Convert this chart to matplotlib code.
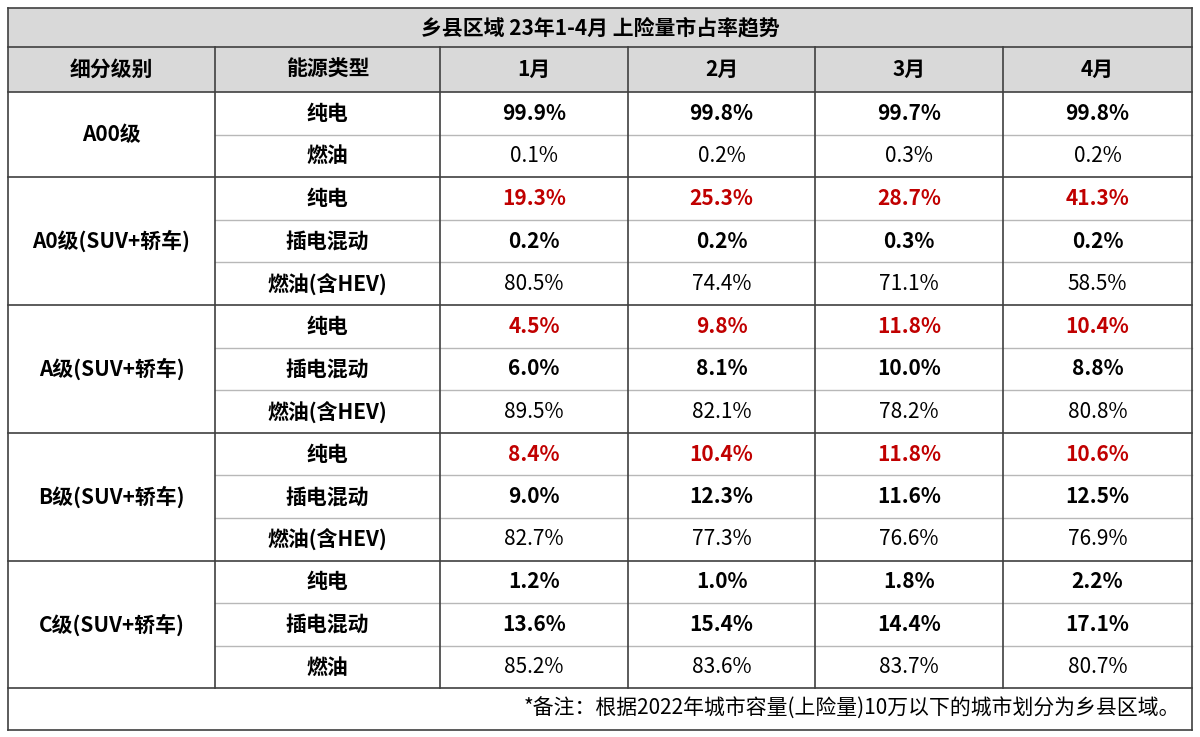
import matplotlib
matplotlib.use("Agg")
import matplotlib.pyplot as plt
from matplotlib.patches import Rectangle

plt.rcParams['font.family'] = 'Noto Sans CJK SC'

title = "乡县区域 23年1-4月 上险量市占率趋势"
headers = ["细分级别", "能源类型", "1月", "2月", "3月", "4月"]
groups = ["A00级", "A0级(SUV+轿车)", "A级(SUV+轿车)", "B级(SUV+轿车)", "C级(SUV+轿车)"]
types = [["纯电", "燃油"],
         ["纯电", "插电混动", "燃油(含HEV)"],
         ["纯电", "插电混动", "燃油(含HEV)"],
         ["纯电", "插电混动", "燃油(含HEV)"],
         ["纯电", "插电混动", "燃油"]]
values = [[[99.9, 99.8, 99.7, 99.8], [0.1, 0.2, 0.3, 0.2]],
          [[19.3, 25.3, 28.7, 41.3], [0.2, 0.2, 0.3, 0.2], [80.5, 74.4, 71.1, 58.5]],
          [[4.5, 9.8, 11.8, 10.4], [6.0, 8.1, 10.0, 8.8], [89.5, 82.1, 78.2, 80.8]],
          [[8.4, 10.4, 11.8, 10.6], [9.0, 12.3, 11.6, 12.5], [82.7, 77.3, 76.6, 76.9]],
          [[1.2, 1.0, 1.8, 2.2], [13.6, 15.4, 14.4, 17.1], [85.2, 83.6, 83.7, 80.7]]]
red_groups = [1, 2, 3]
note = "*备注：根据2022年城市容量(上险量)10万以下的城市划分为乡县区域。"

fig = plt.figure(figsize=(12, 7.37), dpi=100)
ax = fig.add_axes([0, 0, 1, 1])
ax.set_xlim(0, 1200); ax.set_ylim(737, 0); ax.axis('off')

cols = [8, 215, 440, 628, 815, 1003, 1192]
top, t1, t2 = 8, 47, 92
rh = 42.6
bottom_tbl = t2 + rh * 14
bot = 730
dark = '#404040'; light = '#b8b8b8'; gray = '#d9d9d9'
fs = 15

ax.add_patch(Rectangle((8, top), 1184, t2 - top, facecolor=gray, edgecolor='none'))
ax.text(600, (top + t1) / 2, title, ha='center', va='center', fontsize=fs, weight='bold')
for i, h in enumerate(headers):
    ax.text((cols[i] + cols[i + 1]) / 2, (t1 + t2) / 2, h, ha='center', va='center', fontsize=fs, weight='bold')

y = t2
for g, name in enumerate(groups):
    n = len(types[g])
    ax.text((cols[0] + cols[1]) / 2, y + rh * n / 2, name, ha='center', va='center', fontsize=fs, weight='bold')
    for r in range(n):
        yc = y + rh * r + rh / 2
        ax.text((cols[1] + cols[2]) / 2, yc, types[g][r], ha='center', va='center', fontsize=fs, weight='bold')
        fuel = types[g][r].startswith("燃油")
        for c in range(4):
            color = '#c00000' if (r == 0 and g in red_groups) else 'black'
            ax.text((cols[c + 2] + cols[c + 3]) / 2, yc, f"{values[g][r][c]:.1f}%", ha='center', va='center',
                    fontsize=fs, weight='normal' if fuel else 'bold', color=color)
        if r > 0:
            ax.plot([cols[1], cols[-1]], [y + rh * r] * 2, color=light, lw=1)
    y += rh * n
    ax.plot([cols[0], cols[-1]], [y, y], color=dark, lw=1.2)

ax.text(1180, (bottom_tbl + bot) / 2, note, ha='right', va='center', fontsize=fs)

for yy in [top, t1, t2, bot]:
    ax.plot([8, 1192], [yy, yy], color=dark, lw=1.2)
ax.plot([8, 8], [top, bot], color=dark, lw=1.2)
ax.plot([1192, 1192], [top, bot], color=dark, lw=1.2)
for x in cols[1:-1]:
    ax.plot([x, x], [t1, bottom_tbl], color=dark, lw=1.2)

fig.savefig("out.png", dpi=100)
